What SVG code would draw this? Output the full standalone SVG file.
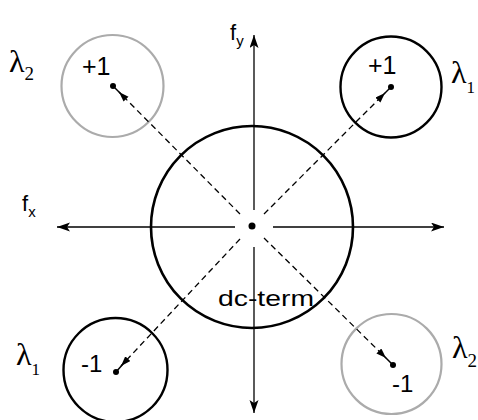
<svg xmlns="http://www.w3.org/2000/svg" width="478" height="420" viewBox="0 0 478 420">
<defs>
<marker id="ax" markerUnits="userSpaceOnUse" markerWidth="14" markerHeight="10" refX="13" refY="4.5" orient="auto">
<path d="M0,0 L13,4.5 L0,9 L3,4.5 z" fill="#000"/>
</marker>
<marker id="ar" markerUnits="userSpaceOnUse" markerWidth="11" markerHeight="8" refX="10" refY="3.5" orient="auto">
<path d="M0,0 L10,3.5 L0,7 z" fill="#000"/>
</marker>
</defs>
<style>
.big{fill:none;stroke:#000;stroke-width:2.6}
.blk{fill:none;stroke:#000;stroke-width:2.4}
.gry{fill:none;stroke:#ababab;stroke-width:2.2}
.axis{stroke:#000;stroke-width:1.3;fill:none}
.dash{stroke:#000;stroke-width:1.3;stroke-dasharray:6 4;fill:none}
.stub{stroke:#000;stroke-width:1.5}
.sans{font-family:"Liberation Sans",Arial,sans-serif;fill:#000}
.serif{font-family:"Liberation Serif","Times New Roman",serif;fill:#000}
</style>
<g id="dc-term">
<circle class="big" cx="252" cy="227" r="101"/>
<circle cx="252" cy="226" r="3.5" fill="#000"/>
<text class="sans" x="218" y="306" font-size="22" textLength="96" lengthAdjust="spacingAndGlyphs">dc-term</text>
</g>
<g id="pos1-lambda1">
<circle class="blk" cx="391" cy="87" r="50.5"/>
<circle cx="391" cy="87" r="3" fill="#000"/>
<text class="sans" x="368" y="74" font-size="25">+1</text>
</g>
<g id="pos1-lambda2">
<circle class="gry" cx="112.5" cy="86" r="51"/>
<circle cx="113" cy="86" r="3" fill="#000"/>
<text class="sans" x="82" y="75" font-size="25">+1</text>
</g>
<g id="neg1-lambda1">
<circle class="blk" cx="115.5" cy="370" r="52"/>
<circle cx="116" cy="372" r="3" fill="#000"/>
<text class="sans" x="81" y="372" font-size="24">-1</text>
</g>
<g id="neg1-lambda2">
<circle class="gry" cx="391.5" cy="364" r="50"/>
<circle cx="393" cy="365" r="3" fill="#000"/>
<text class="sans" x="392" y="392" font-size="24">-1</text>
</g>
<g id="labels">
<text class="serif" x="9" y="72" font-size="32">λ<tspan font-size="19" dy="8">2</tspan></text>
<text class="serif" x="451" y="83" font-size="32">λ<tspan font-size="17" dy="10">1</tspan></text>
<text class="serif" x="16" y="365" font-size="32">λ<tspan font-size="17" dy="10">1</tspan></text>
<text class="serif" x="452" y="358" font-size="32">λ<tspan font-size="19" dy="9">2</tspan></text>
<text class="sans" x="230" y="40" font-size="22">f<tspan font-size="15" dy="6">y</tspan></text>
<text class="sans" x="22" y="211" font-size="22">f<tspan font-size="15" dy="6">x</tspan></text>
</g>
<g id="connectors">
<line class="axis" x1="254" y1="210" x2="254" y2="35" marker-end="url(#ax)"/>
<line class="axis" x1="254" y1="247" x2="254" y2="413" marker-end="url(#ax)"/>
<line class="axis" x1="235" y1="227" x2="57" y2="227" marker-end="url(#ax)"/>
<line class="axis" x1="273" y1="227" x2="444" y2="227" marker-end="url(#ax)"/>
<line class="dash" x1="240" y1="214" x2="119" y2="92" marker-end="url(#ar)"/>
<line class="stub" x1="121" y1="94" x2="113" y2="86"/>
<line class="dash" x1="264" y1="214" x2="385" y2="93" marker-end="url(#ar)"/>
<line class="stub" x1="383" y1="95" x2="391" y2="87"/>
<line class="dash" x1="240" y1="239" x2="121" y2="366" marker-end="url(#ar)"/>
<line class="stub" x1="123" y1="364" x2="116" y2="372"/>
<line class="dash" x1="264" y1="238" x2="386" y2="358" marker-end="url(#ar)"/>
<line class="stub" x1="384" y1="356" x2="393" y2="365"/>
</g>
</svg>
